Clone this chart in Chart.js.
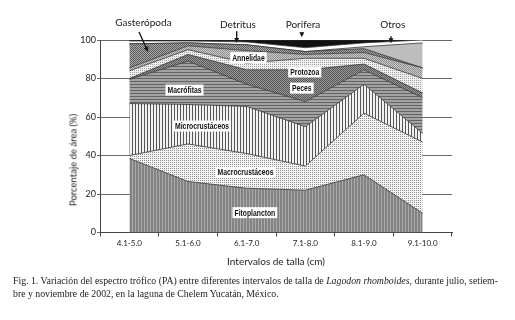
<!DOCTYPE html>
<html>
<head>
<meta charset="utf-8">
<script src="https://cdn.jsdelivr.net/npm/chart.js@4.4.1/dist/chart.umd.min.js"></script>
<style>
html, body { margin: 0; padding: 0; background: #fff; }
#wrap { position: relative; width: 515px; height: 320px; overflow: hidden; }
#c { position: absolute; left: 0; top: 0; }
#ytitle { position: absolute; left: 73px; top: 160px; transform: translate(-50%, -50%) rotate(-90deg);
  font: 9.5px Lato, sans-serif; color: #1a1a1a; white-space: nowrap; }
#caption { position: absolute; left: 13px; top: 275px; font: 9.8px "Liberation Serif", serif;
  line-height: 12.5px; color: #222; white-space: nowrap; }
</style>
</head>
<body>
<div id="wrap">
  <canvas id="c" width="515" height="280"></canvas>
  <div id="ytitle">Porcentaje de área (%)</div>
  <div id="caption">Fig. 1. Variación del espectro trófico (PA) entre diferentes intervalos de talla de <i>Lagodon rhomboides</i>, durante julio, setiem-<br>bre y noviembre de 2002, en la laguna de Chelem Yucatán, México.</div>
</div>
<script>
// size classes (cm)
const categories = ['4.1-5.0', '5.1-6.0', '6.1-7.0', '7.1-8.0', '8.1-9.0', '9.1-10.0'];

// % of area per food item, bottom to top of the stack
const fitoplancton    = [38.5, 26.5, 23, 22, 30, 10];
const macrocrustaceos = [1.5, 19.5, 18, 12.5, 32, 37];
const microcrustaceos = [27, 20.5, 24.5, 20.5, 15, 4.5];
const macrofitas      = [12.5, 22.5, 11.5, 13, 7.5, 18.5];
const peces           = [0.5, 3.5, 7.5, 16.5, 3, 2.5];
const protozoa        = [4, 2.5, 3.5, 6, 3, 7.5];
const annelidae       = [1.5, 2, 6.5, 2, 3, 5.5];
const gasteropoda     = [12.5, 1.5, 3, 1.5, 2, 0];
const otros           = [0, 0, 0, 0, 1, 13];
const detritus        = [1.5, 1, 1.5, 2, 2, 1.5];
const porifera        = [0.5, 0.5, 1, 4, 1.5, 0];

const yTicks = [0, 20, 40, 60, 80, 100];

// labels drawn on the chart: [text, category position, value]
const insideLabels = [
  ['Fitoplancton', 2.14, 10.3],
  ['Macrocrustáceos', 1.98, 31.3],
  ['Microcrustáceos', 1.24, 55.3],
  ['Macrófitas', 0.94, 74],
  ['Peces', 2.94, 75],
  ['Protozoa', 2.99, 83.4],
  ['Annelidae', 2.03, 90.8],
];
// [text, pos, value, arrow from [pos, value], arrow to [pos, value]]
const outsideLabels = [
  ['Gasterópoda', 0.24, 108.7, [0.165, 104.2], [0.32, 93.8]],
  ['Detritus', 1.85, 107.8, [1.83, 104.6], [1.83, 98.4]],
  ['Porifera', 2.96, 107.8, [2.94, 104.2], [2.94, 101.4]],
  ['Otros', 4.49, 107.8, [4.46, 102], [4.46, 98.3]],
];

function makePattern(w, h, bg, draw) {
  const c = document.createElement('canvas');
  c.width = w; c.height = h;
  const g = c.getContext('2d');
  g.fillStyle = bg; g.fillRect(0, 0, w, h);
  draw(g);
  return g.createPattern(c, 'repeat');
}
const vstripes = (bg, fg, p) => makePattern(p, 1, bg, g => { g.fillStyle = fg; g.fillRect(0, 0, 1, 1); });
const hstripes = (bg, fg, p) => makePattern(1, p, bg, g => { g.fillStyle = fg; g.fillRect(0, 0, 1, 1); });
const checker = (bg, fg) => makePattern(2, 2, bg, g => { g.fillStyle = fg; g.fillRect(0, 0, 1, 1); g.fillRect(1, 1, 1, 1); });
const dots = (bg, fg, p) => makePattern(p, p, bg, g => { g.fillStyle = fg; g.fillRect(0, 0, 1, 1); });

const series = [
  ['Fitoplancton', fitoplancton, vstripes('#838383', '#aaaaaa', 3)],
  ['Macrocrustáceos', macrocrustaceos, dots('#f4f4f4', '#8e8e8e', 2)],
  ['Microcrustáceos', microcrustaceos, vstripes('#f2f2f2', '#555555', 3)],
  ['Macrófitas', macrofitas, hstripes('#a2a2a2', '#646464', 3)],
  ['Peces', peces, checker('#9a9a9a', '#555555')],
  ['Protozoa', protozoa, dots('#f0f0f0', '#a0a0a0', 2)],
  ['Annelidae', annelidae, checker('#cccccc', '#8c8c8c')],
  ['Gasterópoda', gasteropoda, checker('#aaaaaa', '#5a5a5a')],
  ['Otros', otros, '#bdbdbd'],
  ['Detritus', detritus, '#ffffff'],
  ['Porifera', porifera, '#111111'],
];

const datasets = series.map(([label, data, bg], i) => ({
  label: label,
  data: data,
  backgroundColor: bg,
  borderColor: '#333',
  borderWidth: 0.8,
  pointRadius: 0,
  tension: 0,
  fill: i === 0 ? 'origin' : '-1',
}));

function arrow(ctx, x1, y1, x2, y2) {
  const a = Math.atan2(y2 - y1, x2 - x1);
  ctx.beginPath();
  ctx.moveTo(x1, y1);
  ctx.lineTo(x2 - 3 * Math.cos(a), y2 - 3 * Math.sin(a));
  ctx.stroke();
  ctx.beginPath();
  ctx.moveTo(x2, y2);
  ctx.lineTo(x2 - 5 * Math.cos(a) + 2.5 * Math.sin(a), y2 - 5 * Math.sin(a) - 2.5 * Math.cos(a));
  ctx.lineTo(x2 - 5 * Math.cos(a) - 2.5 * Math.sin(a), y2 - 5 * Math.sin(a) + 2.5 * Math.cos(a));
  ctx.closePath();
  ctx.fill();
}

const labelPlugin = {
  id: 'foodLabels',
  afterDraw(chart) {
    const { ctx, scales: { x, y } } = chart;
    ctx.save();
    ctx.textAlign = 'center';
    ctx.textBaseline = 'middle';
    ctx.font = 'bold 8.5px "Liberation Sans", sans-serif';
    insideLabels.forEach(([t, i, v]) => {
      const px = x.getPixelForValue(i), py = y.getPixelForValue(v);
      const w = ctx.measureText(t).width * 0.8;
      ctx.fillStyle = '#fff';
      ctx.fillRect(px - w / 2 - 2, py - 5.5, w + 4, 11);
      ctx.save();
      ctx.translate(px, py);
      ctx.scale(0.8, 1);
      ctx.fillStyle = '#111';
      ctx.fillText(t, 0, 0.5);
      ctx.restore();
    });
    ctx.font = '10px Lato, sans-serif';
    ctx.fillStyle = '#1a1a1a';
    ctx.strokeStyle = '#1a1a1a';
    ctx.lineWidth = 1.4;
    outsideLabels.forEach(([t, i, v, from, to]) => {
      ctx.fillText(t, x.getPixelForValue(i), y.getPixelForValue(v));
      arrow(ctx, x.getPixelForValue(from[0]), y.getPixelForValue(from[1]),
        x.getPixelForValue(to[0]), y.getPixelForValue(to[1]));
    });
    ctx.restore();
  }
};

new Chart(document.getElementById('c'), {
  type: 'line',
  data: { labels: categories, datasets: datasets },
  plugins: [labelPlugin],
  options: {
    responsive: false,
    animation: false,
    layout: { padding: { top: 40, right: 63, bottom: 12, left: 0 } },
    plugins: {
      legend: { display: false },
      tooltip: { enabled: false },
    },
    scales: {
      x: {
        offset: true,
        grid: { offset: true, drawOnChartArea: false, tickLength: 4, color: '#444' },
        border: { color: '#444' },
        ticks: { color: '#222', font: { family: 'Lato', size: 8 }, padding: 2, maxRotation: 0 },
        title: { display: true, text: 'Intervalos de talla (cm)', color: '#222',
          font: { family: 'Lato', size: 10 }, padding: { top: 0, bottom: 0 } },
        afterFit: s => { s.height = 35.5; },
      },
      y: {
        stacked: true,
        min: 0,
        max: 100,
        afterBuildTicks: s => { s.ticks = yTicks.map(v => ({ value: v })); },
        grid: { color: '#444', lineWidth: 0.8, tickLength: 3 },
        border: { color: '#444' },
        ticks: { color: '#222', font: { family: 'Lato', size: 9 }, padding: 1 },
        afterFit: s => { s.width = 100; },
      },
    },
  },
});
</script>
</body>
</html>
